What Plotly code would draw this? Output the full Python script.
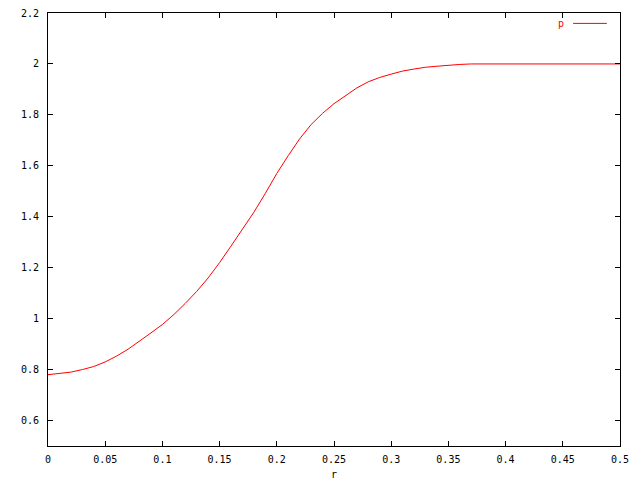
import plotly.graph_objects as go

r = [0.00, 0.01, 0.02, 0.03, 0.04, 0.05, 0.06, 0.07, 0.08, 0.09,
     0.10, 0.11, 0.12, 0.13, 0.14, 0.15, 0.16, 0.17, 0.18, 0.19,
     0.20, 0.21, 0.22, 0.23, 0.24, 0.25, 0.26, 0.27, 0.28, 0.29,
     0.30, 0.31, 0.32, 0.33, 0.34, 0.35, 0.36, 0.37, 0.38, 0.39,
     0.40, 0.41, 0.42, 0.43, 0.44, 0.45, 0.46, 0.47, 0.48, 0.49, 0.50]
p = [0.780, 0.785, 0.790, 0.800, 0.812, 0.830, 0.853, 0.880, 0.911, 0.944,
     0.977, 1.016, 1.060, 1.107, 1.160, 1.220, 1.285, 1.350, 1.418, 1.492,
     1.570, 1.640, 1.706, 1.762, 1.806, 1.844, 1.876, 1.906, 1.930, 1.947,
     1.960, 1.972, 1.980, 1.987, 1.991, 1.995, 1.998, 2.000, 2.000, 2.000,
     2.000, 2.000, 2.000, 2.000, 2.000, 2.000, 2.000, 2.000, 2.000, 2.000, 2.000]
series_name = "p"
x_label = "r"

font = dict(family="DejaVu Sans Mono", size=10, color="black")

fig = go.Figure()
fig.add_trace(go.Scatter(x=r, y=p, mode="lines", name=series_name,
                         line=dict(color="#ff0000", width=1), showlegend=False))

axis_common = dict(showgrid=False, zeroline=False, showline=True, linecolor="black",
                   linewidth=1, mirror="ticks", ticks="inside", ticklen=5,
                   tickcolor="black", tickfont=font, automargin=False,
                   ticklabeloverflow="allow")
fig.update_xaxes(range=[0, 0.5], tickmode="linear", tick0=0, dtick=0.05,
                 title=dict(text=x_label, font=font, standoff=6),
                 ticklabelstandoff=4, **axis_common)
fig.update_yaxes(range=[0.5, 2.2], tickmode="linear", tick0=0.6, dtick=0.2,
                 ticklabelstandoff=6, **axis_common)

fig.add_annotation(xref="paper", yref="paper", x=0.905, y=0.976, text=series_name,
                   showarrow=False, xanchor="right", yanchor="middle",
                   font=dict(family="DejaVu Sans Mono", size=10, color="#ff0000"))
fig.add_shape(type="line", xref="paper", yref="paper", x0=0.918, x1=0.977,
              y0=0.976, y1=0.976, line=dict(color="#ff0000", width=1))

# page body has an 8px margin; figure is sized so the plot area lands where the reference has it
fig.update_layout(width=632, height=472, margin=dict(l=40, r=20, t=5, b=34),
                  plot_bgcolor="white", paper_bgcolor="white", font=font)

fig.write_html("out.html")
